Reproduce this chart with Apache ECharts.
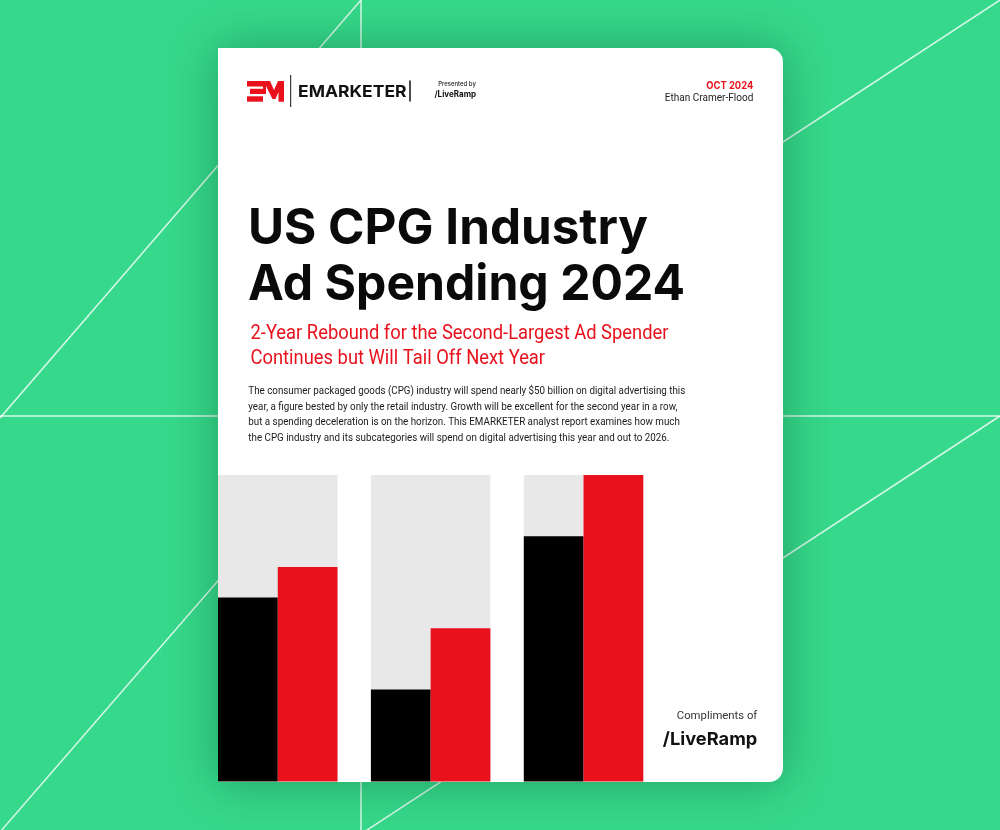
<!DOCTYPE html>
<html>
<head>
<meta charset="utf-8">
<script src="https://cdn.jsdelivr.net/npm/echarts@6/dist/echarts.min.js"></script>
<style>html,body{margin:0;padding:0;background:#36d98b;}#c{width:1000px;height:830px;}</style>
</head>
<body>
<div id="c"></div>
<script>
// ---- data ----
const categories = ['Group 1', 'Group 2', 'Group 3'];
const blackValues = [60, 30, 80];
const redValues = [70, 50, 100];
const backgroundValues = [100, 100, 100];
const axisMax = 100;

const titleLines = ['US CPG Industry', 'Ad Spending 2024'];
const subtitleLines = ['2-Year Rebound for the Second-Largest Ad Spender', 'Continues but Will Tail Off Next Year'];
const bodyLines = [
  'The consumer packaged goods (CPG) industry will spend nearly $50 billion on digital advertising this',
  'year, a figure bested by only the retail industry. Growth will be excellent for the second year in a row,',
  'but a spending deceleration is on the horizon. This EMARKETER analyst report examines how much',
  'the CPG industry and its subcategories will spend on digital advertising this year and out to 2026.'
];
const brandText = 'EMARKETER';
const presentedText = 'Presented by';
const partnerText = '/LiveRamp';
const dateText = 'OCT 2024';
const authorText = 'Ethan Cramer-Flood';
const complimentsText = 'Compliments of';

// ---- helpers ----
const mctx = document.createElement('canvas').getContext('2d');
function scaleFor(text, font, width) { mctx.font = font; return width / mctx.measureText(text).width; }
function txt(text, x, y, font, fill, sx, align) {
  return { type: 'text', x: x, y: y, scaleX: sx, z: 5,
    style: { text: text, font: font, fill: fill, align: align || 'left', verticalAlign: 'middle' } };
}

const RED = '#e8111c';
const fTitle = '700 49.5px Inter';
const fSub = '400 20px Roboto';
const fBody = '400 10.5px Roboto';
const sSub = scaleFor(subtitleLines[0], fSub, 418);
const sBody = scaleFor(bodyLines[0], fBody, 437);

const graphics = [];
// background lines
const lineStyle = { stroke: 'rgba(255,255,255,0.8)', lineWidth: 1.5 };
[[361,0,361,830],[0,416,1000,416],[361,0,0,418],[361,416,0,832],[1000,0,361,418],[1000,416,361,834]].forEach(function(p){
  graphics.push({ type: 'line', z: 0, shape: { x1: p[0], y1: p[1], x2: p[2], y2: p[3] }, style: lineStyle });
});
// card
graphics.push({ type: 'rect', z: 1, shape: { x: 218, y: 48, width: 565, height: 734, r: [0, 14, 14, 0] },
  style: { fill: '#ffffff', shadowBlur: 50, shadowColor: 'rgba(0,60,25,0.38)' } });
// EM logo
graphics.push({ type: 'polygon', z: 5, shape: { points: [[247,81],[263,81],[263,86.5],[247,86.5]] }, style: { fill: RED } });
graphics.push({ type: 'polygon', z: 5, shape: { points: [[250,88.8],[263,88.8],[263,94],[250,94]] }, style: { fill: RED } });
graphics.push({ type: 'polygon', z: 5, shape: { points: [[247,96.3],[263,96.3],[263,101.7],[247,101.7]] }, style: { fill: RED } });
graphics.push({ type: 'polygon', z: 5, shape: { points: [[263,81],[270,81],[274,90],[278,81],[284,81],[284,101.7],[278.5,101.7],[278.5,92],[275.5,99],[272.5,99],[266,86],[266,94],[263,94]] }, style: { fill: RED } });
// dividers
graphics.push({ type: 'line', z: 5, shape: { x1: 290.7, y1: 75, x2: 290.7, y2: 107 }, style: { stroke: '#111', lineWidth: 1 } });
graphics.push({ type: 'line', z: 5, shape: { x1: 410, y1: 80.5, x2: 410, y2: 101.5 }, style: { stroke: '#111', lineWidth: 1.5 } });
// header texts
const fBrand = '700 16.5px Inter';
graphics.push(txt(brandText, 298, 92, fBrand, '#111', scaleFor(brandText, fBrand, 108.5)));
const fPres = '500 6.5px Inter';
graphics.push(txt(presentedText, 438.3, 84.5, fPres, '#222', scaleFor(presentedText, fPres, 37.5)));
const fLR = '700 8.5px Inter';
graphics.push(txt(partnerText, 434.5, 94.5, fLR, '#111', scaleFor(partnerText, fLR, 41.5)));
const fDate = '700 10.5px Inter';
graphics.push(txt(dateText, 753.3, 85.5, fDate, RED, scaleFor(dateText, fDate, 47), 'right'));
const fAuth = '400 10.5px Roboto';
graphics.push(txt(authorText, 753.3, 98, fAuth, '#222', scaleFor(authorText, fAuth, 88.5), 'right'));
// title
graphics.push(txt(titleLines[0], 248, 229.5, fTitle, '#0a0a0a', scaleFor(titleLines[0], fTitle, 400)));
graphics.push(txt(titleLines[1], 248, 285, fTitle, '#0a0a0a', scaleFor(titleLines[1], fTitle, 437)));
// subtitle
graphics.push(txt(subtitleLines[0], 250.5, 334, fSub, RED, sSub));
graphics.push(txt(subtitleLines[1], 250.5, 359, fSub, RED, sSub));
// body
[391.7, 407.3, 422.7, 438.3].forEach(function(y, i){ graphics.push(txt(bodyLines[i], 248.3, y, fBody, '#1a1a1a', sBody)); });
// compliments
const fComp = '400 11px Roboto';
graphics.push(txt(complimentsText, 757.3, 716, fComp, '#333', scaleFor(complimentsText, fComp, 80.5), 'right'));
const fLRb = '700 18px Inter';
graphics.push(txt(partnerText, 757.3, 739.5, fLRb, '#111', scaleFor(partnerText, fLRb, 94.5), 'right'));

const chart = echarts.init(document.getElementById('c'), null, { renderer: 'canvas' });
chart.setOption({
  backgroundColor: '#36d98b',
  animation: false,
  graphic: { elements: graphics },
  grid: { left: 201.3, right: 340, top: 475, bottom: 48.5, containLabel: false },
  xAxis: [
    { type: 'category', data: categories, show: false },
    { type: 'category', data: categories, show: false }
  ],
  yAxis: { type: 'value', min: 0, max: axisMax, show: false, splitLine: { show: false } },
  series: [
    { type: 'bar', xAxisIndex: 1, data: backgroundValues, barWidth: 119.5, itemStyle: { color: '#e8e8e8' }, z: 1.5, silent: true },
    { type: 'bar', data: blackValues, barWidth: 59.75, barGap: '0%', itemStyle: { color: '#000000' }, z: 2 },
    { type: 'bar', data: redValues, barWidth: 59.75, barGap: '0%', itemStyle: { color: '#e8111c' }, z: 2 }
  ]
});
</script>
</body>
</html>
